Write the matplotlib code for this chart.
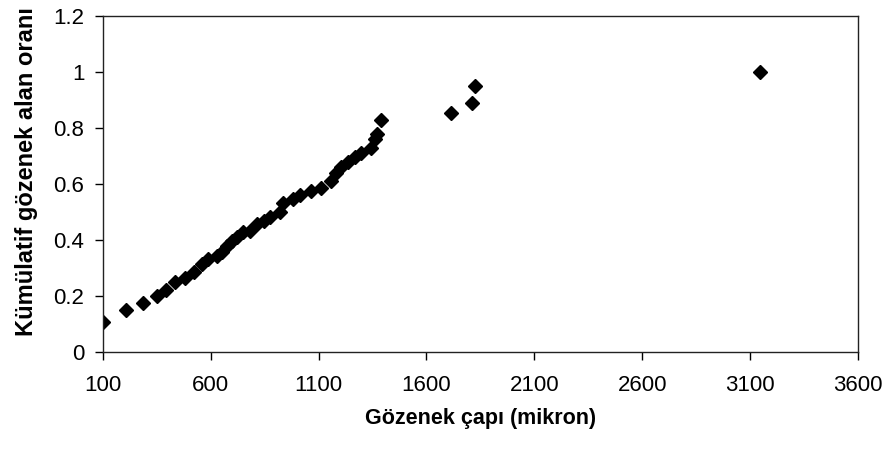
import matplotlib
matplotlib.use("Agg")
import matplotlib.pyplot as plt

# pore diameter (micron) and cumulative pore area ratio
cap = [100, 206, 286, 351, 392, 435, 482, 520, 559, 589, 628, 651, 674, 697,
       720, 751, 782, 812, 845, 875, 920, 936, 982, 1013, 1066, 1113, 1159,
       1182, 1205, 1236, 1267, 1297, 1343, 1359, 1371, 1390, 1713, 1813,
       1823, 3146]
oran = [0.11, 0.15, 0.176, 0.203, 0.224, 0.253, 0.266, 0.286, 0.316, 0.334,
        0.345, 0.357, 0.381, 0.399, 0.411, 0.428, 0.434, 0.458, 0.47, 0.485,
        0.50, 0.535, 0.547, 0.563, 0.577, 0.587, 0.613, 0.642, 0.66, 0.678,
        0.696, 0.71, 0.729, 0.761, 0.781, 0.829, 0.854, 0.889, 0.95, 1.0]

xticks = [100, 600, 1100, 1600, 2100, 2600, 3100, 3600]
yticks = [0, 0.2, 0.4, 0.6, 0.8, 1, 1.2]
ytick_labels = ["0", "0.2", "0.4", "0.6", "0.8", "1", "1.2"]

plt.rcParams['font.family'] = ['Liberation Sans', 'DejaVu Sans']

fig = plt.figure(figsize=(8.88, 4.54), dpi=100)
ax = fig.add_axes([0.116, 0.2236, 0.850, 0.741])
ax.plot(cap, oran, linestyle='none', marker='D', markersize=7, color='black')

ax.set_xlim(100, 3600)
ax.set_ylim(0, 1.2)
ax.set_xticks(xticks)
ax.set_xticklabels([str(t) for t in xticks])
ax.set_yticks(yticks)
ax.set_yticklabels(ytick_labels)
ax.tick_params(direction='out', length=5.5, width=1, labelsize=16)
ax.tick_params(axis='y', pad=8)
ax.tick_params(axis='x', pad=11)
for s in ax.spines.values():
    s.set_linewidth(1)
    s.set_color('#222222')

ax.set_xlabel('Gözenek çapı (mikron)', fontsize=15.5, fontweight='bold', labelpad=8)
ax.set_ylabel('Kümülatif gözenek alan oranı', fontsize=17, fontweight='bold')
ax.yaxis.set_label_coords(-0.086, 0.539)

fig.savefig('out.png', dpi=100)
